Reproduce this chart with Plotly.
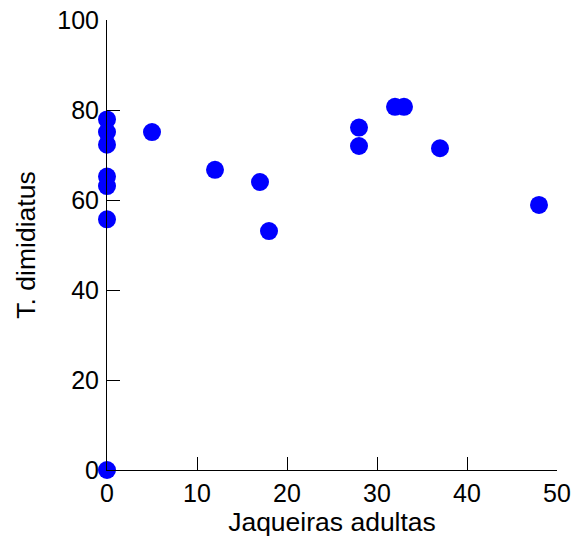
import plotly.graph_objects as go

jaqueiras = [0, 0, 0, 0, 0, 0, 0, 5, 12, 17, 18, 28, 28, 32, 33, 37, 48]
t_dimidiatus = [0, 55.7, 63.1, 65.2, 72.3, 75.1, 77.9, 75.1, 66.7, 64.0, 53.1, 76.1, 72.0, 80.7, 80.7, 71.5, 58.9]

x_ticks = [0, 10, 20, 30, 40, 50]
y_ticks = [0, 20, 40, 60, 80, 100]

fig = go.Figure()
fig.add_trace(go.Scatter(
    x=jaqueiras, y=t_dimidiatus, mode="markers",
    marker=dict(color="#0000ff", size=18, line=dict(width=0)),
    cliponaxis=False, showlegend=False,
))

fam = "Liberation Sans, Arial, Helvetica, sans-serif"
tickfont = dict(family=fam, size=25, color="black")
titlefont = dict(family=fam, size=26.5, color="black")
fig.update_layout(
    width=574, height=541,
    margin=dict(l=107, r=17, t=20, b=71),
    paper_bgcolor="white", plot_bgcolor="white",
    font=dict(family=fam, color="black"),
    xaxis=dict(range=[0, 50], tickvals=x_ticks, ticks="inside", ticklen=13, tickcolor="black",
               showline=True, linecolor="black", linewidth=1, showgrid=False, zeroline=False,
               tickfont=tickfont, automargin=False, ticklabeloverflow="allow",
               title=dict(text="Jaqueiras adultas", standoff=3, font=titlefont), ticklabelstandoff=1),
    yaxis=dict(range=[0, 100], tickvals=y_ticks, ticks="inside", ticklen=13, tickcolor="black",
               showline=True, linecolor="black", linewidth=1, showgrid=False, zeroline=False,
               tickfont=tickfont, automargin=False, ticklabeloverflow="allow",
               title=dict(text="T. dimidiatus", standoff=14, font=titlefont), ticklabelstandoff=2),
)
fig.write_html("out.html", config={"displayModeBar": False},
               post_script="document.body.style.margin='0';document.body.style.overflow='hidden';")
